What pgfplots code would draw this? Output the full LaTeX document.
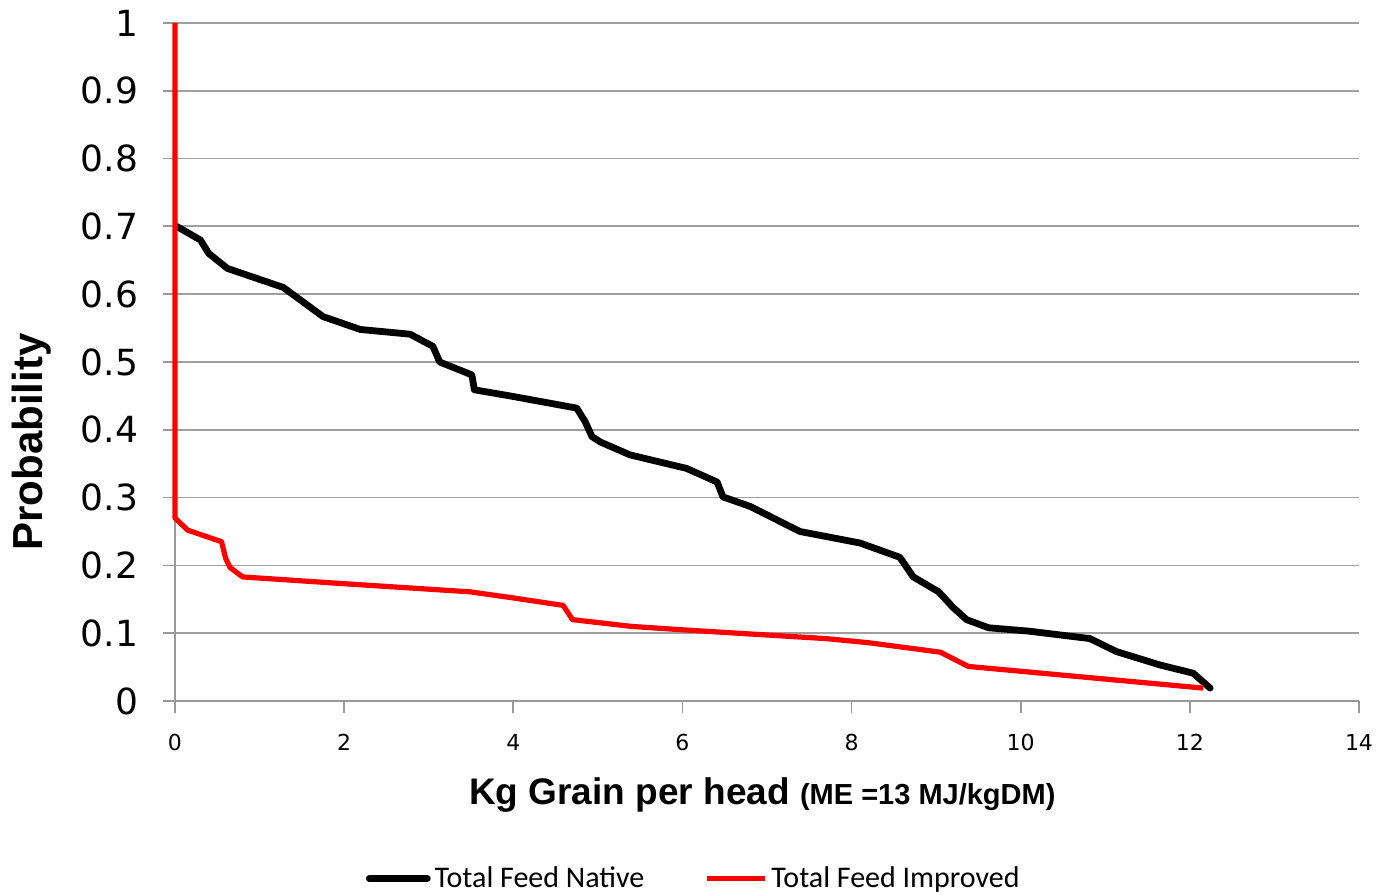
\documentclass[border=0pt]{standalone}
\usepackage{fontspec}
\setmainfont{Liberation Sans}
\newfontfamily\dejavu{DejaVu Sans}
\newfontfamily\carlito{Carlito}
\usepackage{pgfplots}
\pgfplotsset{compat=1.18}

\begin{document}
\begin{tikzpicture}
\begin{axis}[
  scale only axis,
  width=592pt,
  height=339pt,
  xmin=0, xmax=14,
  ymin=0, ymax=1,
  xtick={0,2,...,14},
  ytick={0,0.1,...,1},
  axis x line*=bottom,
  axis y line*=left,
  axis line style={draw=gray!80, line width=0.9pt},
  tick style={draw=gray!80, line width=0.9pt},
  tick align=outside,
  major tick length=6pt,
  ymajorgrids,
  major grid style={draw=gray!75, line width=0.9pt},
  yticklabel style={
    font=\dejavu\fontsize{18}{20}\selectfont,
    xshift=-9pt,
    /pgf/number format/fixed,
    /pgf/number format/precision=1,
    /pgf/number format/assume math mode=true
  },
  xticklabel style={
    font=\dejavu\fontsize{11}{13}\selectfont,
    yshift=-7pt,
    /pgf/number format/assume math mode=true
  },
  ylabel={\bfseries\fontsize{21}{24}\selectfont Probability},
  ylabel style={at={(axis description cs:-0.1208,0.382)}, anchor=center},
  xlabel={\bfseries\fontsize{18.5}{20}\selectfont Kg Grain per head {\fontsize{14.5}{16}\selectfont (ME =13 MJ/kgDM)}},
  xlabel style={at={(axis description cs:0.496,-0.138)}, anchor=center},
  legend columns=2,
  legend style={
    at={(axis description cs:0.439,-0.262)}, anchor=center,
    draw=none, fill=none,
    font=\carlito\fontsize{15}{17}\selectfont,
    /tikz/every even column/.append style={column sep=28pt}
  },
  legend image code/.code={\draw[#1] (0pt,0pt) -- (29pt,0pt);},
  clip=false
]
\addplot[black, line width=3.4pt, line join=round, line cap=round] table {
x y
0.02 0.700
0.30 0.680
0.40 0.660
0.62 0.638
1.28 0.610
1.75 0.567
2.19 0.548
2.78 0.541
3.05 0.523
3.13 0.500
3.51 0.481
3.54 0.459
3.96 0.450
4.75 0.432
4.85 0.412
4.93 0.390
5.03 0.382
5.38 0.363
6.05 0.343
6.41 0.323
6.48 0.301
6.80 0.287
7.39 0.250
8.10 0.233
8.57 0.212
8.73 0.183
9.03 0.161
9.20 0.138
9.36 0.120
9.62 0.108
10.10 0.103
10.82 0.092
11.13 0.073
11.65 0.053
12.04 0.041
12.24 0.019
};
\addlegendentry{Total Feed Native}
\addplot[red, line width=2.6pt, line join=round] table {
x y
0.00 1.000
0.00 0.270
0.15 0.252
0.55 0.235
0.60 0.210
0.65 0.197
0.80 0.183
2.00 0.173
3.49 0.161
4.00 0.152
4.59 0.141
4.70 0.120
5.40 0.110
6.00 0.105
7.70 0.092
8.20 0.086
9.05 0.072
9.38 0.051
12.16 0.019
};
\addlegendentry{Total Feed Improved}
\end{axis}
\pgfresetboundingbox
\path (-87.5pt,-97pt) rectangle (604pt,350.5pt);
\end{tikzpicture}
\end{document}
